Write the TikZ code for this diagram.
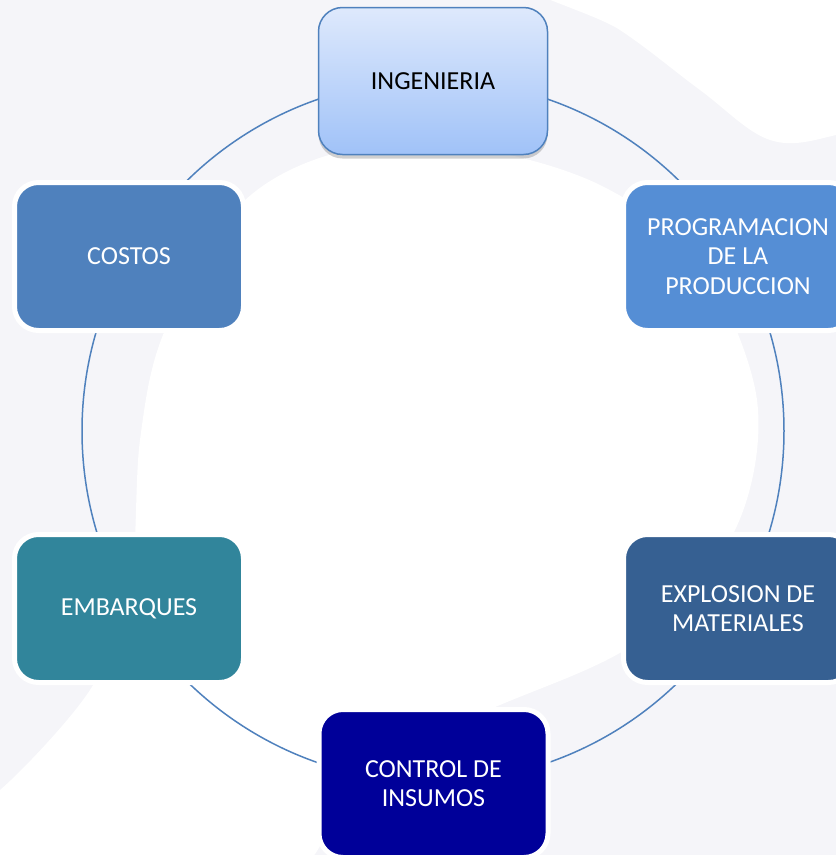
\documentclass[tikz,border=0pt]{standalone}
\usepackage{fontspec}
\setmainfont{Carlito}
\usetikzlibrary{shadows}
\definecolor{bggrey}{RGB}{245,245,249}
\definecolor{ringblue}{RGB}{79,129,189}
\definecolor{ingtop}{RGB}{222,233,252}
\definecolor{ingbot}{RGB}{160,194,248}
\definecolor{progblue}{RGB}{85,142,213}
\definecolor{costblue}{RGB}{79,129,189}
\definecolor{embteal}{RGB}{49,133,155}
\definecolor{explblue}{RGB}{54,96,146}
\definecolor{ctrlnavy}{RGB}{0,0,153}
\tikzset{
  cyclebox/.style={rounded corners=24pt, minimum width=229pt, minimum height=148pt,
    draw=white, line width=5pt, text=white, align=center, inner sep=0pt,
    font=\fontsize{26}{29.5}\selectfont},
  topbox/.style={rounded corners=24pt, minimum width=229pt, minimum height=147pt,
    draw=ringblue, line width=1.5pt, text=black, align=center, inner sep=0pt,
    top color=ingtop, bottom color=ingbot,
    drop shadow={shadow xshift=0pt, shadow yshift=-4pt, opacity=0.3, fill=black!60},
    font=\fontsize{26}{29.5}\selectfont},
  ring/.style={draw=ringblue, line width=1.5pt}
}
\begin{document}
\begin{tikzpicture}[x=1pt,y=-1pt]
\useasboundingbox (0,0) rectangle (836,855);
% background
\fill[bggrey] (0,0) rectangle (836,855);
\fill[white] plot[smooth cycle, tension=0.55] coordinates {
  (140,440) (165,330) (240,205) (340,152) (470,148) (600,185) (700,262)
  (757,400) (735,530) (640,640) (500,705) (360,760) (280,880) (-40,900)
  (-40,800) (0,790) (90,690) (130,590)};
\fill[white] plot[smooth cycle, tension=0.6] coordinates {
  (520,-30) (900,-30) (900,110) (836,135) (770,140) (700,90) (620,30)};
% ring
\coordinate (c) at (433,431);
\draw[ring] (c) circle[radius=351pt];
% nodes
\node[topbox] (ing) at (433,81) {INGENIERIA};
\node[cyclebox, fill=progblue] (prog) at (738,256.5) {PROGRAMACION\\DE LA\\PRODUCCION};
\node[cyclebox, fill=explblue] (expl) at (738,608.5) {EXPLOSION DE\\MATERIALES};
\node[cyclebox, fill=ctrlnavy] (ctrl) at (433.5,783.5) {CONTROL DE\\INSUMOS};
\node[cyclebox, fill=embteal] (emb) at (129,608.5) {EMBARQUES};
\node[cyclebox, fill=costblue] (cost) at (129,256.5) {COSTOS};
\end{tikzpicture}
\end{document}
